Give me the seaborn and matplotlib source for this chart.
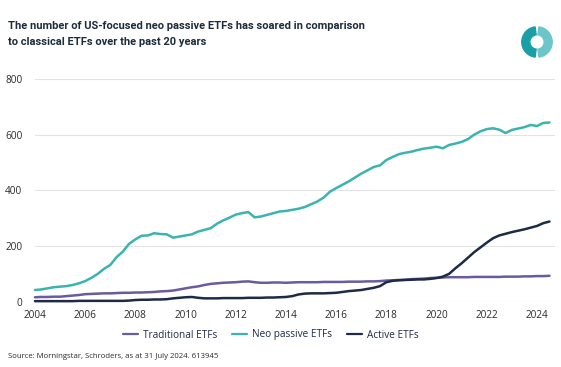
import numpy as np
import pandas as pd
import matplotlib
matplotlib.use("Agg")
import matplotlib.pyplot as plt
from matplotlib.patches import Wedge
import seaborn as sns

# ---- data (quarterly, Jan 2004 - Jul 2024) ----
dates = pd.date_range("2004-01-01", "2024-07-01", freq="QS")

neo_passive = [
    42, 44, 48, 52,
    54, 56, 60, 66,
    74, 86, 100, 118,
    132, 160, 180, 208,
    224, 237, 238, 246,
    243, 242, 230, 234,
    238, 242, 252, 258,
    264, 280, 292, 302,
    313, 318, 322, 303,
    306, 312, 318, 324,
    326, 330, 334, 340,
    350, 360, 374, 395,
    408, 420, 432, 446,
    460, 472, 484, 490,
    509, 520, 530, 535,
    539, 545, 550, 553,
    557, 551, 563, 568,
    574, 584, 600, 612,
    620, 623, 618, 606,
    617, 622, 627, 635,
    631, 642, 644,
]

traditional = [
    16, 17, 17, 18,
    18, 20, 22, 24,
    27, 28, 29, 30,
    30, 31, 32, 32,
    33, 33, 34, 35,
    37, 38, 40, 44,
    48, 52, 55, 60,
    64, 66, 68, 69,
    70, 72, 73, 70,
    68, 68, 69, 69,
    68, 69, 70, 70,
    70, 70, 71, 71,
    71, 71, 72, 72,
    72, 73, 73, 74,
    76, 77, 78, 79,
    81, 82, 83, 85,
    86, 87, 88, 88,
    88, 88, 89, 89,
    89, 89, 89, 90,
    90, 90, 91, 91,
    92, 92, 93,
]

active = [
    2, 2, 2, 2,
    2, 2, 2, 3,
    3, 3, 3, 3,
    3, 3, 3, 4,
    6, 7, 7, 8,
    8, 9, 12, 14,
    16, 17, 14, 12,
    12, 12, 13, 13,
    13, 13, 14, 14,
    14, 15, 15, 16,
    17, 20, 26, 29,
    30, 30, 30, 31,
    32, 35, 38, 40,
    42, 46, 50, 56,
    70, 75, 77, 78,
    79, 80, 80, 82,
    85, 90, 100, 120,
    138, 158, 178, 195,
    212, 228, 238, 244,
    250, 255, 260, 266,
    272, 282, 288,
]

series_names = ["Traditional ETFs", "Neo passive ETFs", "Active ETFs"]
x_ticks = [2004, 2006, 2008, 2010, 2012, 2014, 2016, 2018, 2020, 2022, 2024]
y_ticks = [0, 200, 400, 600, 800]

title_lines = ["The number of US-focused neo passive ETFs has soared in comparison",
               "to classical ETFs over the past 20 years"]
source = "Source: Morningstar, Schroders, as at 31 July 2024. 613945"

# ---- build table ----
year_frac = dates.year + (dates.month - 1) / 12.0
df = pd.concat([
    pd.DataFrame({"year": year_frac, "value": traditional, "series": series_names[0]}),
    pd.DataFrame({"year": year_frac, "value": neo_passive, "series": series_names[1]}),
    pd.DataFrame({"year": year_frac, "value": active, "series": series_names[2]}),
], ignore_index=True)

palette = {
    "Traditional ETFs": "#6a5a9e",
    "Neo passive ETFs": "#3bb3ae",
    "Active ETFs": "#1e2a46",
}

sns.set_theme(style="white")
plt.rcParams["font.family"] = ["Open Sans", "DejaVu Sans"]

W, H = 561, 367
fig = plt.figure(figsize=(W / 100, H / 100), dpi=100)
ax = fig.add_axes([35 / W, 1 - 301.7 / H, (555 - 35) / W, (301.7 - 79) / H])

sns.lineplot(data=df, x="year", y="value", hue="series", hue_order=series_names,
             palette=palette, linewidth=1.8, ax=ax, legend=True)
for ln in ax.get_lines():
    ln.set_clip_on(False)

ax.set_xlim(2004.0, 2024.72)
ax.set_ylim(0, 800)
ax.set_xticks(x_ticks)
ax.set_xticklabels([str(t) for t in x_ticks])
ax.set_yticks(y_ticks)
ax.set_yticklabels([str(t) for t in y_ticks])
ax.set_xlabel("")
ax.set_ylabel("")
ax.grid(axis="y", color="#e3e3e3", linewidth=0.8)
ax.grid(axis="x", visible=False)
ax.set_axisbelow(True)
for s in ax.spines.values():
    s.set_visible(False)
ax.tick_params(axis="both", length=0, labelsize=7.2, colors="#2b2b2b")
ax.tick_params(axis="y", pad=9)
ax.tick_params(axis="x", pad=6)

leg = ax.legend(loc="center", bbox_to_anchor=(271 / W, 1 - 335 / H),
                bbox_transform=fig.transFigure, ncol=3, frameon=False,
                fontsize=7.2, handlelength=1.5, handletextpad=0.5,
                columnspacing=1.5)
for t in leg.get_texts():
    t.set_color("#1e2a46")
for h in leg.get_lines():
    h.set_linewidth(1.6)

for i, line in enumerate(title_lines):
    fig.text(8 / W, 1 - (26 + 16 * i) / H, line, ha="left", va="center",
             fontsize=8.0, fontweight="bold", color="#1d2b3a",
             family=["Roboto", "DejaVu Sans"])
fig.text(8 / W, 1 - 356 / H, source, ha="left", va="center", fontsize=5.6,
         color="#2b2b2b")

# logo ring
lax = fig.add_axes([(537 - 16) / W, (H - 42 - 16) / H, 32 / W, 32 / H])
lax.set_xlim(-1, 1)
lax.set_ylim(-1, 1)
lax.axis("off")
lax.add_patch(Wedge((0, 0), 0.95, 97, 263, width=0.5, color="#1a9fa6"))
lax.add_patch(Wedge((0, 0), 0.95, -83, 83, width=0.5, color="#6cc6c9"))

fig.savefig("out.png", dpi=100, facecolor="white")
